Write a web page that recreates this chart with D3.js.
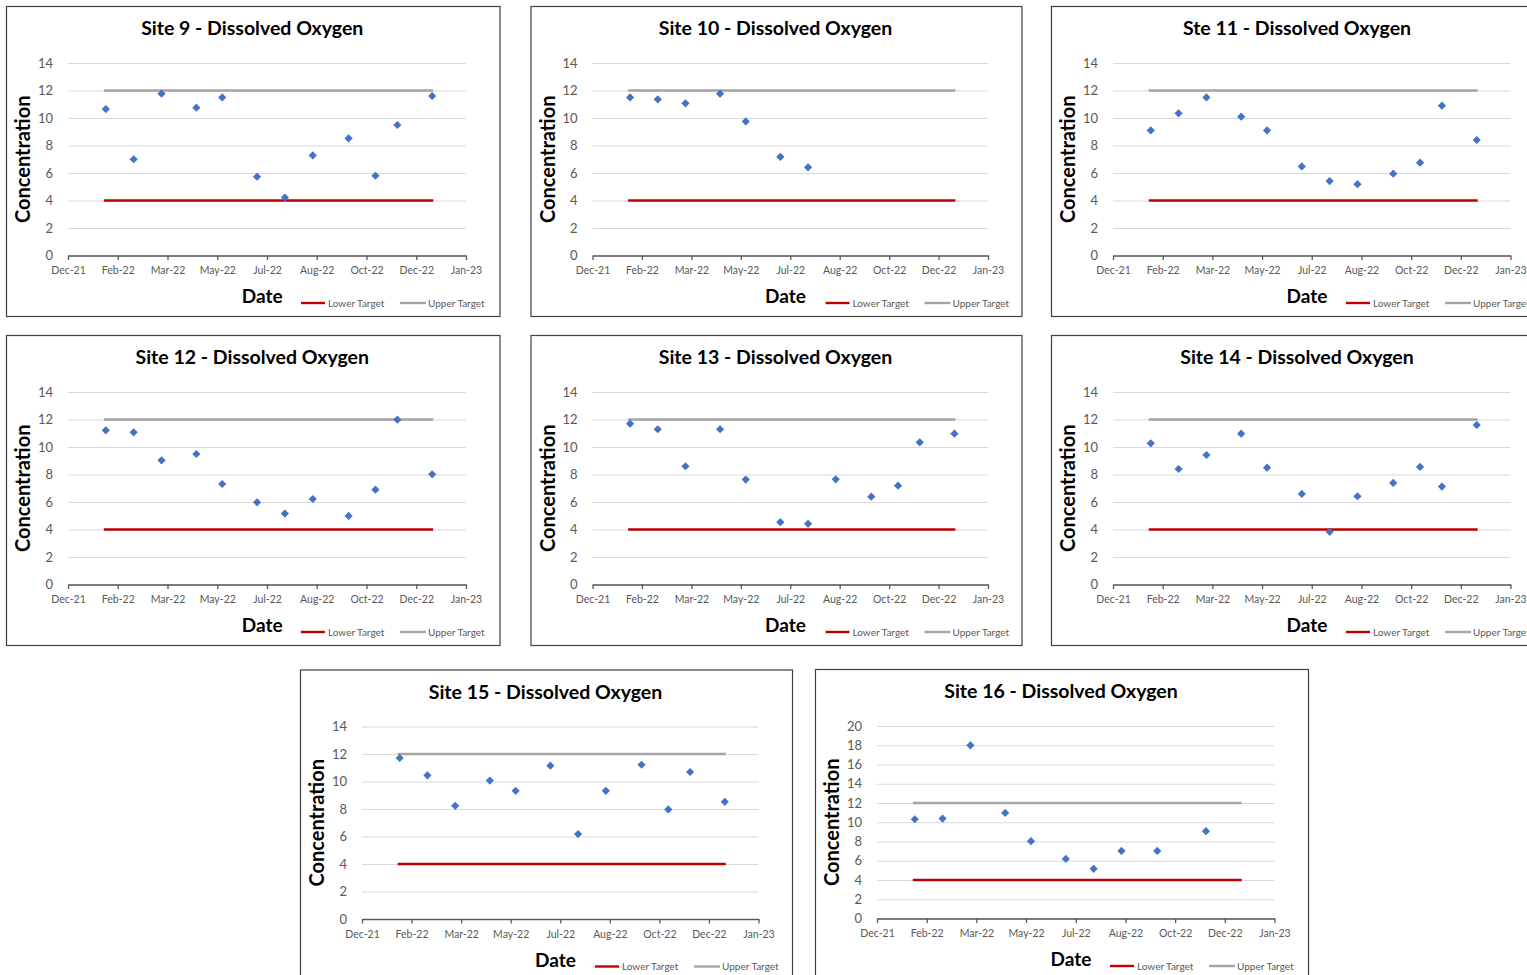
<!DOCTYPE html>
<html>
<head>
<meta charset="utf-8">
<script src="https://cdn.jsdelivr.net/npm/d3@7/dist/d3.min.js"></script>
<style>
  html, body { margin: 0; padding: 0; background: #ffffff; }
  svg { display: block; }
  text { font-family: Lato, "Open Sans", "Liberation Sans", sans-serif; }
</style>
</head>
<body>
<svg id="chart" width="1527" height="975"></svg>
<script>
// ---------------- DATA ----------------
const siteTitles = [
  "Site 9 - Dissolved Oxygen",
  "Site 10 - Dissolved Oxygen",
  "Ste 11 - Dissolved Oxygen",
  "Site 12 - Dissolved Oxygen",
  "Site 13 - Dissolved Oxygen",
  "Site 14 - Dissolved Oxygen",
  "Site 15 - Dissolved Oxygen",
  "Site 16 - Dissolved Oxygen"
];

const sampleDates = ["2022-01-27","2022-02-24","2022-03-24","2022-04-28","2022-05-24","2022-06-28",
                     "2022-07-26","2022-08-23","2022-09-28","2022-10-25","2022-11-16","2022-12-21"];
const site10Dates = ["2022-01-27","2022-02-24","2022-03-24","2022-04-28","2022-05-24","2022-06-28","2022-07-26"];
const site16Dates = ["2022-01-27","2022-02-24","2022-03-24","2022-04-28","2022-05-24","2022-06-28",
                     "2022-07-26","2022-08-23","2022-09-28","2022-11-16"];

const site9  = [10.65, 7.0, 11.77, 10.75, 11.5, 5.73, 4.22, 7.28, 8.52, 5.8, 9.49, 11.6];
const site10 = [11.5, 11.36, 11.07, 11.77, 9.75, 7.18, 6.41];
const site11 = [9.1, 10.34, 11.5, 10.1, 9.1, 6.48, 5.41, 5.19, 5.95, 6.75, 10.9, 8.4];
const site12 = [11.21, 11.07, 9.03, 9.49, 7.31, 5.98, 5.16, 6.22, 4.99, 6.9, 11.99, 8.02];
const site13 = [11.7, 11.29, 8.6, 11.29, 7.63, 4.53, 4.41, 7.65, 6.39, 7.19, 10.34, 10.97];
const site14 = [10.27, 8.4, 9.42, 10.97, 8.5, 6.59, 3.83, 6.42, 7.39, 8.55, 7.12, 11.6];
const site15 = [11.71, 10.45, 8.23, 10.07, 9.32, 11.15, 6.18, 9.32, 11.22, 7.97, 10.69, 8.52];
const site16 = [10.31, 10.38, 17.99, 10.97, 8.03, 6.19, 5.16, 7.02, 7.02, 9.07];

const lowerTarget = 4;
const upperTarget = 12;
const targetSpan = ["2022-01-25", "2022-12-22"];

const xDomain = ["2021-12-20", "2023-01-24"];
const xTickDates = ["2021-12-20","2022-02-08","2022-03-30","2022-05-19","2022-07-08",
                    "2022-08-27","2022-10-16","2022-12-05","2023-01-24"];
const xTickLabels = ["Dec-21","Feb-22","Mar-22","May-22","Jul-22","Aug-22","Oct-22","Dec-22","Jan-23"];
const yTicks14 = [0, 2, 4, 6, 8, 10, 12, 14];
const yTicks20 = [0, 2, 4, 6, 8, 10, 12, 14, 16, 18, 20];

const legendLabels = ["Lower Target", "Upper Target"];
const xAxisTitle = "Date";
const yAxisTitle = "Concentration";

// ---------------- LAYOUT ----------------
const panels = [
  { title: siteTitles[0], dates: sampleDates, values: site9,  yMax: 14, yTicks: yTicks14, x: 6,     y: 6,     w: 494.5, h: 311 },
  { title: siteTitles[1], dates: site10Dates, values: site10, yMax: 14, yTicks: yTicks14, x: 530.5, y: 6,     w: 492,   h: 311 },
  { title: siteTitles[2], dates: sampleDates, values: site11, yMax: 14, yTicks: yTicks14, x: 1051,  y: 6,     w: 494,   h: 311 },
  { title: siteTitles[3], dates: sampleDates, values: site12, yMax: 14, yTicks: yTicks14, x: 6,     y: 335,   w: 494.5, h: 311 },
  { title: siteTitles[4], dates: sampleDates, values: site13, yMax: 14, yTicks: yTicks14, x: 530.5, y: 335,   w: 492,   h: 311 },
  { title: siteTitles[5], dates: sampleDates, values: site14, yMax: 14, yTicks: yTicks14, x: 1051,  y: 335,   w: 494,   h: 311 },
  { title: siteTitles[6], dates: sampleDates, values: site15, yMax: 14, yTicks: yTicks14, x: 300,   y: 669.5, w: 493,   h: 311 },
  { title: siteTitles[7], dates: site16Dates, values: site16, yMax: 20, yTicks: yTicks20, x: 815,   y: 669,   w: 494,   h: 311 }
];

const parse = d3.timeParse("%Y-%m-%d");
const svg = d3.select("#chart");

const C = {
  border: "#404040", grid: "#d9d9d9", axis: "#595959", tickText: "#595959",
  marker: "#4472c4", lower: "#c00000", upper: "#a5a5a5"
};

panels.forEach(p => {
  const g = svg.append("g").attr("transform", `translate(${p.x},${p.y})`);
  g.append("rect").attr("x", 0.5).attr("y", 0.5).attr("width", p.w - 1).attr("height", p.h - 1)
    .attr("fill", "#fff").attr("stroke", C.border).attr("stroke-width", 1.2);

  const left = 62, right = p.w - 34.5, top = 57, bottom = 249.5;
  const x = d3.scaleTime().domain(xDomain.map(parse)).range([left, right]);
  const y = d3.scaleLinear().domain([0, p.yMax]).range([bottom, top]);

  // gridlines + y labels
  const ya = g.append("g").attr("transform", `translate(${left},0)`)
    .call(d3.axisLeft(y).tickValues(p.yTicks).tickSize(-(right - left)).tickPadding(15).tickFormat(d3.format("d")));
  ya.select(".domain").remove();
  ya.selectAll(".tick line").attr("stroke", C.grid).attr("stroke-width", 1);
  ya.selectAll(".tick text").attr("fill", C.tickText).style("font-size", "13px")
    .style("font-family", "Lato, 'Open Sans', sans-serif");

  // x axis
  const xa = g.append("g").attr("transform", `translate(0,${bottom})`)
    .call(d3.axisBottom(x).tickValues(xTickDates.map(parse)).tickSize(4.5).tickSizeOuter(0).tickPadding(7)
      .tickFormat((d, i) => xTickLabels[i]));
  xa.select(".domain").attr("stroke", C.axis).attr("stroke-width", 1.6);
  xa.selectAll(".tick line").attr("stroke", C.axis).attr("stroke-width", 1.3);
  xa.selectAll(".tick text").attr("fill", C.tickText).style("font-size", "10.5px")
    .style("font-family", "Lato, 'Open Sans', sans-serif");

  // target lines
  const span = targetSpan.map(parse);
  const line = d3.line().x(d => x(d[0])).y(d => y(d[1]));
  g.append("path").datum(span.map(d => [d, upperTarget]))
    .attr("d", line).attr("stroke", C.upper).attr("stroke-width", 2.4).attr("fill", "none");
  g.append("path").datum(span.map(d => [d, lowerTarget]))
    .attr("d", line).attr("stroke", C.lower).attr("stroke-width", 2.4).attr("fill", "none");

  // markers
  const pts = p.values.map((v, i) => [parse(p.dates[i]), v]);
  const r = 4.1;
  g.append("g").selectAll("path").data(pts).join("path")
    .attr("d", d => {
      const cx = x(d[0]), cy = y(d[1]);
      return `M${cx},${cy - r}L${cx + r},${cy}L${cx},${cy + r}L${cx - r},${cy}Z`;
    })
    .attr("fill", C.marker);

  // titles
  g.append("text").attr("x", p.w / 2 - 1).attr("y", 29).attr("text-anchor", "middle")
    .style("font-size", "19.5px").style("font-weight", "bold").attr("fill", "#000").text(p.title);
  g.append("text").attr("transform", `translate(24,${(top + bottom) / 2}) rotate(-90)`)
    .attr("text-anchor", "middle").style("font-size", "20px").style("font-weight", "bold")
    .attr("fill", "#000").text(yAxisTitle);
  g.append("text").attr("x", p.w / 2 + 9).attr("y", 297).attr("text-anchor", "middle")
    .style("font-size", "19px").style("font-weight", "bold").attr("fill", "#000").text(xAxisTitle);

  // legend
  const lg = g.append("g").attr("transform", "translate(0,297)");
  lg.append("line").attr("x1", 295).attr("x2", 319).attr("y1", 0).attr("y2", 0)
    .attr("stroke", C.lower).attr("stroke-width", 2.4);
  lg.append("text").attr("x", 322).attr("y", 3.5).style("font-size", "10px").attr("fill", C.tickText).text(legendLabels[0]);
  lg.append("line").attr("x1", 394).attr("x2", 420).attr("y1", 0).attr("y2", 0)
    .attr("stroke", C.upper).attr("stroke-width", 2.4);
  lg.append("text").attr("x", 422).attr("y", 3.5).style("font-size", "10px").attr("fill", C.tickText).text(legendLabels[1]);
});
</script>
</body>
</html>
